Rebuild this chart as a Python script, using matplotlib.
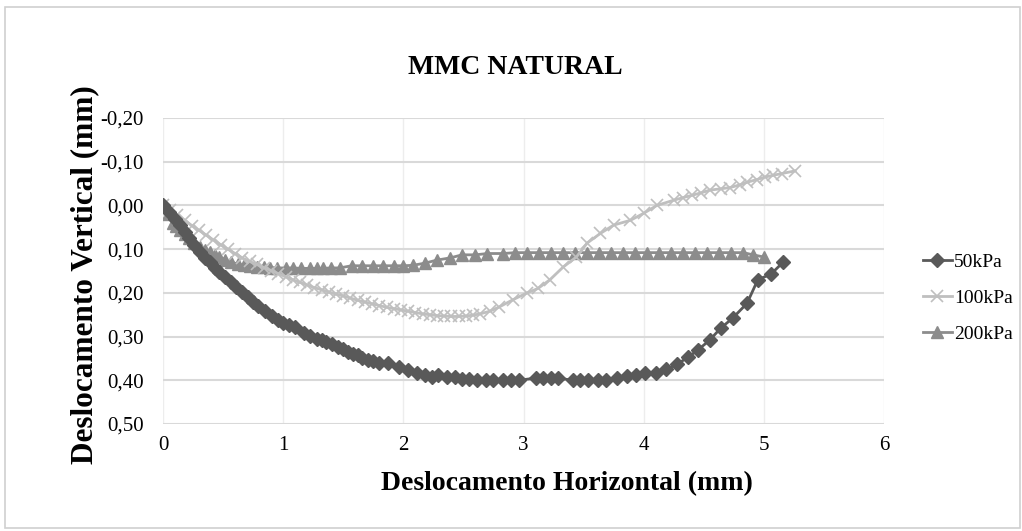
import matplotlib
matplotlib.use("Agg")
import matplotlib.pyplot as plt
from matplotlib.patches import Rectangle
from matplotlib.ticker import FuncFormatter

title = "MMC NATURAL"
xlabel = "Deslocamento Horizontal (mm)"
ylabel = "Deslocamento Vertical (mm)"
series_names = ["50kPa", "100kPa", "200kPa"]

x50 = [0, 0.05, 0.10, 0.14, 0.18, 0.22, 0.26, 0.31, 0.35, 0.39,
       0.43, 0.47, 0.52, 0.57, 0.61, 0.66, 0.71, 0.75, 0.79, 0.85,
       0.91, 0.96, 1.0, 1.05, 1.10, 1.17, 1.22, 1.28, 1.32, 1.36,
       1.41, 1.46, 1.50, 1.54, 1.58, 1.62, 1.66, 1.71, 1.75, 1.80,
       1.87, 1.96, 2.04, 2.11, 2.18, 2.24, 2.29, 2.36, 2.43, 2.49,
       2.55, 2.61, 2.69, 2.75, 2.83, 2.90, 2.96, 3.10, 3.16, 3.23,
       3.29, 3.41, 3.47, 3.54, 3.62, 3.69, 3.78, 3.86, 3.94, 4.01,
       4.10, 4.19, 4.28, 4.37, 4.45, 4.55, 4.64, 4.74, 4.86, 4.95,
       5.06, 5.16]
y50 = [0, 0.015, 0.03, 0.045, 0.06, 0.075, 0.09, 0.107, 0.12, 0.13,
       0.143, 0.153, 0.164, 0.175, 0.186, 0.198, 0.209, 0.22, 0.23, 0.242,
       0.253, 0.261, 0.268, 0.274, 0.279, 0.292, 0.298, 0.305, 0.308, 0.312,
       0.317, 0.323, 0.329, 0.335, 0.339, 0.343, 0.348, 0.354, 0.357, 0.36,
       0.36, 0.369, 0.376, 0.383, 0.388, 0.392, 0.388, 0.392, 0.392, 0.397,
       0.398, 0.40, 0.40, 0.40, 0.40, 0.40, 0.40, 0.395, 0.395, 0.395,
       0.395, 0.40, 0.40, 0.40, 0.40, 0.40, 0.394, 0.39, 0.387, 0.384,
       0.383, 0.375, 0.363, 0.347, 0.331, 0.308, 0.281, 0.258, 0.224, 0.17,
       0.157, 0.13]

x100 = [0, 0.06, 0.12, 0.18, 0.24, 0.30, 0.36, 0.42, 0.48, 0.54,
        0.60, 0.66, 0.72, 0.78, 0.84, 0.90, 0.96, 1.02, 1.08, 1.14,
        1.20, 1.26, 1.32, 1.38, 1.44, 1.50, 1.56, 1.62, 1.68, 1.74,
        1.80, 1.86, 1.92, 1.98, 2.04, 2.10, 2.16, 2.22, 2.28, 2.34,
        2.40, 2.46, 2.52, 2.58, 2.64, 2.72, 2.80, 2.91, 3.03, 3.12,
        3.22, 3.33, 3.44, 3.53, 3.64, 3.75, 3.89, 4.00, 4.11, 4.25,
        4.33, 4.40, 4.48, 4.55, 4.64, 4.72, 4.80, 4.86, 4.94, 5.01,
        5.08, 5.15, 5.26]
y100 = [0, 0.01, 0.022, 0.034, 0.046, 0.057, 0.068, 0.079, 0.09, 0.10,
        0.11, 0.12, 0.128, 0.135, 0.142, 0.149, 0.156, 0.163, 0.17, 0.176,
        0.182, 0.188, 0.193, 0.198, 0.203, 0.207, 0.212, 0.217, 0.221, 0.225,
        0.229, 0.233, 0.236, 0.239, 0.242, 0.245, 0.248, 0.25, 0.252, 0.253,
        0.254, 0.254, 0.253, 0.251, 0.248, 0.242, 0.232, 0.216, 0.20, 0.19,
        0.17, 0.141, 0.118, 0.086, 0.064, 0.045, 0.034, 0.018, 0.0, -0.012,
        -0.018, -0.023, -0.029, -0.035, -0.038, -0.041, -0.047, -0.053, -0.059, -0.065,
        -0.069, -0.073, -0.079]

x200 = [0, 0.04, 0.08, 0.11, 0.14, 0.18, 0.22, 0.26, 0.31, 0.35,
        0.39, 0.43, 0.47, 0.52, 0.57, 0.62, 0.67, 0.72, 0.78, 0.84,
        0.89, 0.95, 1.02, 1.08, 1.15, 1.22, 1.28, 1.33, 1.40, 1.47,
        1.57, 1.66, 1.75, 1.83, 1.92, 2.0, 2.08, 2.18, 2.28, 2.39,
        2.49, 2.60, 2.70, 2.83, 2.93, 3.03, 3.13, 3.23, 3.33, 3.43,
        3.53, 3.63, 3.73, 3.83, 3.93, 4.03, 4.13, 4.23, 4.33, 4.43,
        4.53, 4.63, 4.73, 4.83, 4.91, 5.0]
y200 = [0, 0.02, 0.04, 0.048, 0.057, 0.066, 0.075, 0.085, 0.095, 0.101,
        0.107, 0.113, 0.118, 0.124, 0.13, 0.134, 0.137, 0.139, 0.14, 0.141,
        0.142, 0.143, 0.143, 0.143, 0.144, 0.144, 0.144, 0.144, 0.143, 0.143,
        0.138, 0.138, 0.138, 0.138, 0.138, 0.138, 0.137, 0.132, 0.125, 0.12,
        0.113, 0.113, 0.11, 0.11, 0.108, 0.108, 0.108, 0.108, 0.108, 0.108,
        0.108, 0.108, 0.108, 0.108, 0.108, 0.108, 0.108, 0.108, 0.108, 0.108,
        0.108, 0.108, 0.108, 0.108, 0.113, 0.118]

xticks = [0, 1, 2, 3, 4, 5, 6]
yticks = [-0.20, -0.10, 0.00, 0.10, 0.20, 0.30, 0.40, 0.50]

plt.rcParams['font.family'] = ['Liberation Serif', 'DejaVu Serif']

fig = plt.figure(figsize=(10.22, 5.31), dpi=100)
fig.patches.append(Rectangle((5 / 1022, 3 / 531), 1015 / 1022, 521 / 531,
                             transform=fig.transFigure, fill=False,
                             edgecolor='#D0D0D0', linewidth=1.2))

ax = fig.add_axes([163 / 1022, 1 - 424 / 531, (884 - 163) / 1022, (424 - 118) / 531])

ax.plot(x50, y50, color='#595959', marker='D', markersize=7, linewidth=2,
        label=series_names[0], zorder=5)
ax.plot(x100, y100, color='#BFBFBF', marker='x', markersize=8, markeredgewidth=1.2,
        linewidth=2, label=series_names[1], zorder=4)
ax.plot(x200, y200, color='#8C8C8C', marker='^', markersize=8, linewidth=2,
        label=series_names[2], zorder=3)

ax.set_xlim(0, 6)
ax.set_ylim(0.50, -0.20)
ax.set_xticks(xticks)
ax.set_yticks(yticks)
ax.yaxis.set_major_formatter(FuncFormatter(lambda v, p: f"{v:.2f}".replace('.', ',').replace('-0,00', '0,00')))
ax.xaxis.set_major_formatter(FuncFormatter(lambda v, p: f"{v:.0f}"))
ax.tick_params(axis='both', length=0, labelsize=15, colors='#000000')
ax.tick_params(axis='x', pad=9)
ax.tick_params(axis='y', pad=14)

ax.grid(axis='y', color='#D9D9D9', linewidth=1.5)
ax.grid(axis='x', color='#EDEDED', linewidth=1.0)
ax.set_axisbelow(True)
for s in ax.spines.values():
    s.set_visible(False)

fig.text(515 / 1022, 1 - 68 / 531, title, ha='center', va='center',
         fontsize=20, fontweight='bold')
fig.text(85 / 1022, 1 - 275 / 531, ylabel, ha='center', va='center',
         rotation=90, fontsize=22.5, fontweight='bold')
fig.text(567 / 1022, 1 - 484 / 531, xlabel, ha='center', va='center',
         fontsize=20, fontweight='bold')

leg = ax.legend(loc='center left', bbox_to_anchor=(915 / 1022, 1 - 298 / 531),
                bbox_transform=fig.transFigure, frameon=False, fontsize=14,
                handlelength=1.5, handletextpad=0.1, labelspacing=0.95,
                borderaxespad=0)

fig.savefig("out.png", dpi=100)
